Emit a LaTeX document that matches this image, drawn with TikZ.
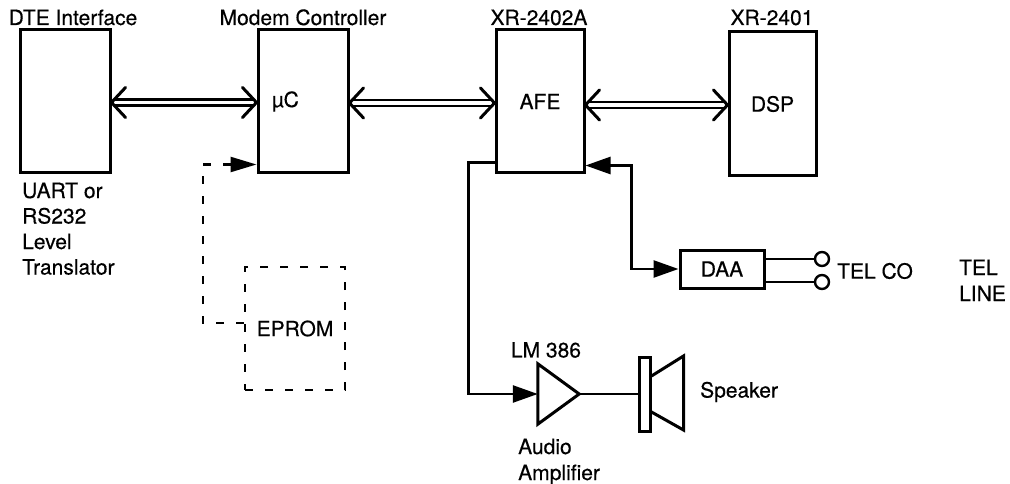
\documentclass[tikz,border=0pt]{standalone}
\usepackage{fontspec}
\setmainfont{TeX Gyre Heros}[FakeBold=0.4]
\usetikzlibrary{arrows.meta,calc}
\tikzset{
  every node/.style={font=\fontsize{21}{25.5}\selectfont},
  blk/.style={draw, line width=3pt, inner sep=0pt},
  lw/.style={line width=3pt},
  conn/.style={line width=2.6pt},
  busln/.style={line width=2.3pt, line cap=butt},
  chev/.style={line width=3pt, line cap=round, line join=miter},
  dashbox/.style={draw, line width=2.4pt, dash pattern=on 8pt off 12pt, inner sep=0pt},
  dashconn/.style={line width=2.4pt, dash pattern=on 8pt off 12pt},
  txt/.style={inner sep=0pt},
  tri/.tip={Triangle[length=25pt,width=17pt]},
}
\newcommand\dblbus[2]{%
  \draw[busln] ($(#1)+(3,-3)$) -- ($(#2)+(-3,-3)$);
  \draw[busln] ($(#1)+(3,3)$) -- ($(#2)+(-3,3)$);
  \draw[chev] ($(#1)+(14,-15)$) -- (#1) -- ($(#1)+(14,15)$);
  \draw[chev] ($(#2)+(-14,-15)$) -- (#2) -- ($(#2)+(-14,15)$);
}
\begin{document}
\begin{tikzpicture}[x=1pt,y={(0pt,-1pt)}]
\useasboundingbox (0,0) rectangle (1010,484);
% blocks
\node[blk, minimum width=90, minimum height=143] (dte) at (65,101.5) {};
\node[blk, minimum width=90, minimum height=143, text width=62, inner xsep=14, align=left] (uc) at (303,101.5) {µC};
\node[blk, minimum width=88, minimum height=143] (afe) at (540,101.5) {AFE};
\node[blk, minimum width=87, minimum height=144] (dsp) at (772.5,104) {DSP};
\node[dashbox, minimum width=100, minimum height=123] (eprom) at (295,328.5) {EPROM};
\node[blk, minimum width=84, minimum height=38] (daa) at (722,269) {DAA};
\node[draw, circle, line width=2.4pt, minimum size=14, inner sep=0pt] (t1) at (822,259) {};
\node[draw, circle, line width=2.4pt, minimum size=14, inner sep=0pt] (t2) at (822,282) {};
\node[minimum width=41, minimum height=60, inner sep=0pt] (amp) at (558.5,394) {};
\node[blk, minimum width=11, minimum height=74] (spk) at (644.5,394) {};
% amplifier and speaker cone
\draw[lw, line join=miter] (amp.north west) -- (amp.east) -- (amp.south west) -- cycle;
\draw[lw, line join=miter] ($(spk.east)+(0,-18)$) -- ($(spk.east)+(32,-38)$) -- ($(spk.east)+(32,36)$) -- ($(spk.east)+(0,18)$);
% labels
\node[txt, anchor=base] (tdte) at (73,25) {DTE Interface};
\node[txt, anchor=base] (tmc) at (303,25) {Modem Controller};
\node[txt, anchor=base] (tafe) at (539,25) {XR-2402A};
\node[txt, anchor=base] (tdsp) at (772,25) {XR-2401};
\node[txt, anchor=north west, align=left] (tuart) at (22,182.5) {UART or\\RS232\\Level\\Translator};
\node[txt] (tlm) at (546,350) {LM 386};
\node[txt, anchor=north west, align=left, font=\fontsize{21}{26}\selectfont] (taudio) at (518,438.5) {Audio\\Amplifier};
\node[txt, anchor=west] (tspk) at (700,392) {Speaker};
\node[txt, anchor=west] (ttelco) at (837,271) {TEL CO};
\node[txt, anchor=north west, align=left, font=\fontsize{21}{26}\selectfont] (ttel) at (959,259.5) {TEL\\LINE};
% buses
\coordinate (b1a) at ($(dte.east)+(0,1)$);
\coordinate (b1b) at ($(uc.west)+(0,1)$);
\coordinate (b2a) at ($(uc.east)+(0,1.5)$);
\coordinate (b2b) at ($(afe.west)+(0,1.5)$);
\coordinate (b3a) at ($(afe.east)+(0,3.5)$);
\coordinate (b3b) at ($(dsp.west)+(0,1)$);
\dblbus{b1a}{b1b}
\dblbus{b2a}{b2b}
\dblbus{b3a}{b3b}
% connectors
\draw[conn, -tri] ($(afe.south west)+(0,-12)$) -- ++(-26,0) |- (amp.west);
\draw[conn, tri-tri] ($(afe.south east)+(0,-9)$) -- ++(46,0) |- (daa.west);
\draw[conn] (amp.east) -- (spk.west);
\draw[conn] (daa.east |- t1) -- (t1.west);
\draw[conn] (daa.east |- t2) -- (t2.west);
\draw[dashconn, -{Triangle[length=26pt,width=15pt]}] ($(eprom.west)+(0,-5.5)$) -- ++(-41,0) |- ($(uc.south west)+(0,-10)$);
\end{tikzpicture}
\end{document}
